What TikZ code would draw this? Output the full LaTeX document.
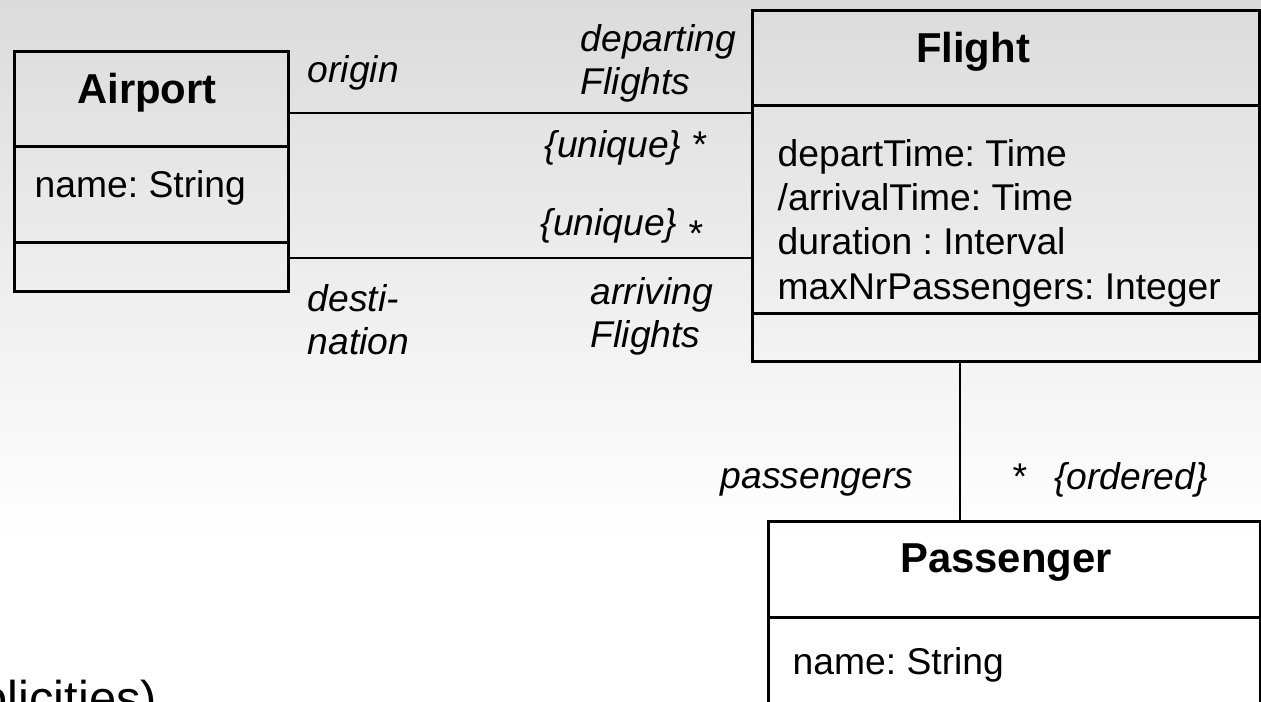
\documentclass[tikz,border=0pt]{standalone}
\usepackage{fontspec}
\setmainfont{Liberation Sans}
\frenchspacing

\begin{document}
\begin{tikzpicture}[
                classbox/.style={draw, line width=0.85pt, anchor=north west, inner sep=0pt},
                sep/.style={line width=0.85pt},
                assoc/.style={line width=0.6pt},
                title/.style={font=\fontsize{11.9}{14}\selectfont\bfseries, inner sep=0pt},
                attr/.style={font=\fontsize{10.6}{12.6}\selectfont, anchor=west, align=left, inner sep=0pt},
                role/.style={font=\fontsize{10.6}{12.2}\selectfont\itshape, anchor=west, align=left, inner sep=0pt}
            ]

            % background
            \fill[white] (0,0) rectangle (12.61,-7.01);
            \shade[top color={rgb,255:red,219;green,219;blue,219}, bottom color=white] (0,0) rectangle (12.61,-5.4);
            \useasboundingbox (0,0) rectangle (12.61,-7.01);

            % classes
            \node[classbox, minimum width=2.74cm, minimum height=2.40cm] (airport) at (0.13,-0.50) {};
            \node[classbox, minimum width=5.07cm, minimum height=3.51cm] (flight) at (7.51,-0.09) {};
            \node[classbox, minimum width=4.92cm, minimum height=2.40cm] (passenger) at (7.67,-5.20) {};

            \draw[sep] ([yshift=-0.96cm]airport.north west) -- ([yshift=-0.96cm]airport.north east);
            \draw[sep] ([yshift=-1.92cm]airport.north west) -- ([yshift=-1.92cm]airport.north east);
            \draw[sep] ([yshift=-0.96cm]flight.north west) -- ([yshift=-0.96cm]flight.north east);
            \draw[sep] ([yshift=-3.04cm]flight.north west) -- ([yshift=-3.04cm]flight.north east);
            \draw[sep] ([yshift=-0.97cm]passenger.north west) -- ([yshift=-0.97cm]passenger.north east);

            \node[title] (airporttitle) at (1.47,-0.925) {Airport};
            \node[attr] (airportattr) at (0.34,-1.875) {name: String};

            \node[title] (flighttitle) at (9.73,-0.515) {Flight};
            \node[attr] (flightattr) at (7.77,-2.23) {departTime: Time\\/arrivalTime: Time\\duration : Interval\\maxNrPassengers: Integer};

            \node[title] (passengertitle) at (10.06,-5.63) {Passenger};
            \node[attr] (passengerattr) at (7.92,-6.645) {name: String};

            % associations
            \coordinate (dep) at ([yshift=-0.63cm]airport.north east);
            \coordinate (arr) at ([yshift=-2.08cm]airport.north east);
            \coordinate (pas) at (9.60,-3.60);
            \draw[assoc] (dep) -- (dep -| flight.west);
            \draw[assoc] (arr) -- (arr -| flight.west);
            \draw[assoc] (pas) -- (pas |- passenger.north);

            \node[role] (origin) at (3.07,-0.725) {origin};
            \node[role] (departing) at (5.80,-0.63) {departing\\Flights};
            \node[role] (uniquedep) at (5.44,-1.475) {\{unique\} *};
            \node[role] (uniquearr) at (5.40,-2.275) {\{unique\} \raisebox{-3.2pt}{*}};
            \node[role] (destination) at (3.07,-3.20) {desti-\\nation};
            \node[role] (arriving) at (5.90,-3.16) {arriving\\Flights};
            \node[role] (passengers) at (7.20,-4.825) {passengers};
            \node[role] (ordered) at (10.11,-4.80) {*\hspace{0.28cm}\{ordered\}};

            \node[anchor=base west, inner sep=0pt, font=\fontsize{13.9}{16}\selectfont] (multiplicities) at (-0.20,-7.15) {plicities)};

        \end{tikzpicture}
\end{document}
